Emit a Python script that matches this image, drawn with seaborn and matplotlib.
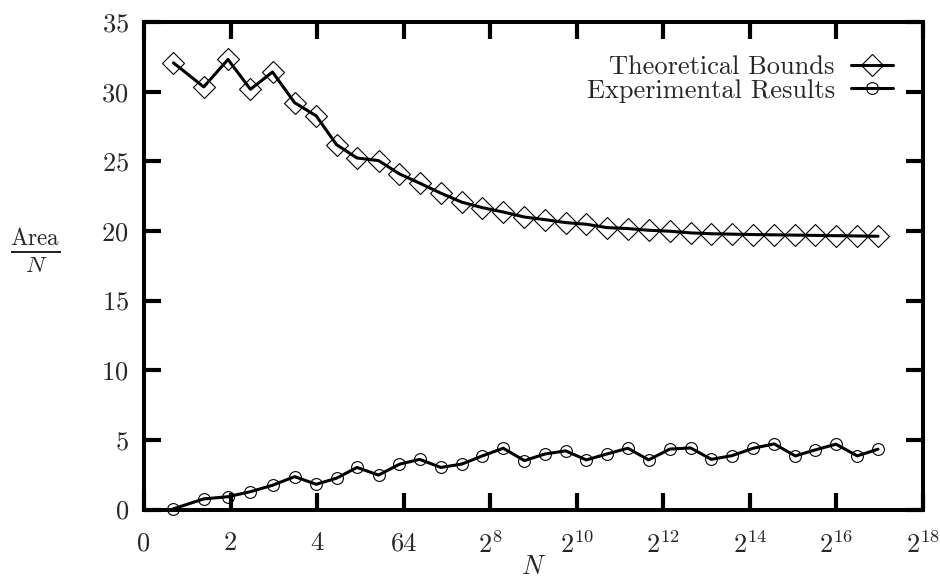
import numpy as np
import pandas as pd
import matplotlib
matplotlib.use("Agg")
import matplotlib.pyplot as plt
import seaborn as sns

# x positions are log2(N)
log_n = [0.68, 1.38, 1.94, 2.46, 2.97, 3.48, 3.98, 4.45, 4.92, 5.42, 5.90, 6.37,
         6.86, 7.34, 7.82, 8.30, 8.79, 9.27, 9.74, 10.22, 10.70, 11.18, 11.66,
         12.15, 12.63, 13.11, 13.59, 14.08, 14.56, 15.05, 15.51, 15.99, 16.48, 16.96]

theoretical = [32.07, 30.34, 32.31, 30.17, 31.41, 29.21, 28.26, 26.19, 25.24, 25.05,
               24.10, 23.43, 22.71, 22.07, 21.67, 21.36, 21.00, 20.81, 20.60, 20.48,
               20.24, 20.17, 20.05, 19.98, 19.86, 19.80, 19.77, 19.74, 19.72, 19.70,
               19.68, 19.66, 19.64, 19.62]

experimental = [0.05, 0.76, 0.92, 1.28, 1.74, 2.36, 1.81, 2.25, 3.02, 2.47,
                3.25, 3.60, 3.02, 3.26, 3.85, 4.40, 3.51, 3.99, 4.21, 3.56,
                3.99, 4.40, 3.56, 4.34, 4.42, 3.60, 3.87, 4.40, 4.71, 3.85,
                4.28, 4.69, 3.85, 4.33]

xtick_pos = list(range(0, 19, 2))
xtick_labels = ["0", "2", "4", "64", "$2^{8}$", "$2^{10}$", "$2^{12}$",
                "$2^{14}$", "$2^{16}$", "$2^{18}$"]
ytick_pos = list(range(0, 36, 5))

sns.set_style("ticks")
plt.rcParams["font.family"] = ["cmr10", "DejaVu Serif"]
plt.rcParams["mathtext.fontset"] = "cm"
plt.rcParams["axes.unicode_minus"] = False
plt.rcParams["axes.formatter.use_mathtext"] = True

df = pd.DataFrame({"logN": log_n, "theo": theoretical, "exp": experimental})

fig = plt.figure(figsize=(9.4, 5.78), dpi=100)
ax = fig.add_axes([0.1532, 0.1185, 0.8287, 0.8434])

sns.lineplot(data=df, x="logN", y="theo", ax=ax, color="black", linewidth=2.2,
             marker="D", markersize=11.5, markerfacecolor="none",
             markeredgecolor="black", markeredgewidth=0.8,
             clip_on=False, zorder=3, label="Theoretical Bounds")
sns.lineplot(data=df, x="logN", y="exp", ax=ax, color="black", linewidth=2.2,
             marker="o", markersize=8.5, markerfacecolor="none",
             markeredgecolor="black", markeredgewidth=0.8,
             clip_on=False, zorder=3, label="Experimental Results")

ax.set_xlim(0, 18)
ax.set_ylim(0, 35)
ax.set_xticks(xtick_pos)
ax.set_xticklabels(xtick_labels)
ax.set_yticks(ytick_pos)
ax.tick_params(direction="in", length=12, width=3, labelsize=19,
               top=True, right=True, color="black")
ax.tick_params(axis="x", pad=16)
ax.tick_params(axis="y", pad=11)
for s in ax.spines.values():
    s.set_linewidth(2.9)
    s.set_color("black")

ax.set_xlabel("$N$", fontsize=19, labelpad=-2)
ax.set_ylabel(r"$\frac{\mathrm{Area}}{N}$", fontsize=24, rotation=0,
              va="center", ha="center")
ax.yaxis.set_label_coords(-0.14, 0.53)

leg = ax.legend(loc="upper right", frameon=False, markerfirst=False, fontsize=19,
                handlelength=1.6, borderaxespad=0.3, labelspacing=0.0,
                handletextpad=0.6, bbox_to_anchor=(0.985, 0.97))

fig.savefig("out.png", dpi=100)
